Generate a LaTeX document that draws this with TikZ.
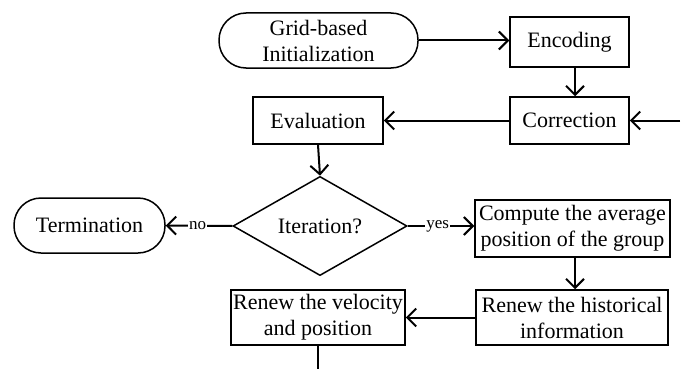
\documentclass[tikz,border=0pt]{standalone}
\usepackage{fontspec}
\setmainfont{Liberation Serif}
\usetikzlibrary{shapes.geometric,arrows.meta}
\begin{document}
\begin{tikzpicture}[x=1pt,y=-1pt,
  every node/.style={font=\rmfamily\fontsize{22}{26}\selectfont, align=center, inner sep=0pt},
  procbox/.style={draw, line width=1.5pt, rectangle},
  termbox/.style={draw, line width=1.5pt, rectangle, rounded corners=27pt},
  flow/.style={line width=2pt, -{Straight Barb[length=9pt,width=18pt,line width=2pt]}},
  plainline/.style={line width=2pt},
  lbl/.style={fill=white, font=\rmfamily\fontsize{17}{20}\selectfont, inner sep=1pt}]
\useasboundingbox (0,0) rectangle (684,369);
\node[termbox, minimum width=199pt, minimum height=55pt] (init) at (318.5,40.5) {Grid-based\\Initialization};
\node[procbox, minimum width=119pt, minimum height=50pt] (enc) at (569.5,42) {Encoding};
\node[procbox, minimum width=119pt, minimum height=47pt] (cor) at (569.5,120.5) {Correction};
\node[procbox, minimum width=130pt, minimum height=47pt] (eva) at (318,120.5) {Evaluation};
\node[draw, line width=1.5pt, diamond, minimum width=174pt, minimum height=76pt, inner sep=0pt] (it) at (320,226) {Iteration?};
\node[termbox, minimum width=151pt, minimum height=55pt] (term) at (89.5,225.5) {Termination};
\node[procbox, minimum width=195pt, minimum height=57pt] (comp) at (572.5,228.5) {Compute the average\\position of the group};
\node[procbox, minimum width=192pt, minimum height=55pt] (hist) at (572,317.5) {Renew the historical\\information};
\node[procbox, minimum width=174pt, minimum height=55pt] (vel) at (318,317.5) {Renew the velocity\\and position};
\coordinate (inR) at (680,120.5);
\coordinate (outB) at (318,369);
\draw[flow] (init.east) -- (enc.west |- init.east);
\draw[flow] (enc.south -| 575,0) -- (cor.north -| 575,0);
\draw[flow] (inR) -- (cor.east);
\draw[flow] (cor.west) -- (eva.east);
\draw[flow] (eva.south) -- (it.north);
\draw[flow] (it.west) -- node[lbl, pos=0.52] {no} (term.east);
\draw[flow] (it.east) -- node[lbl, pos=0.45] {yes} (comp.west |- it.east);
\draw[flow] (comp.south -| 575,0) -- (hist.north -| 575,0);
\draw[flow] (hist.west) -- (vel.east);
\draw[plainline] (vel.south) -- (outB);
\end{tikzpicture}
\end{document}
